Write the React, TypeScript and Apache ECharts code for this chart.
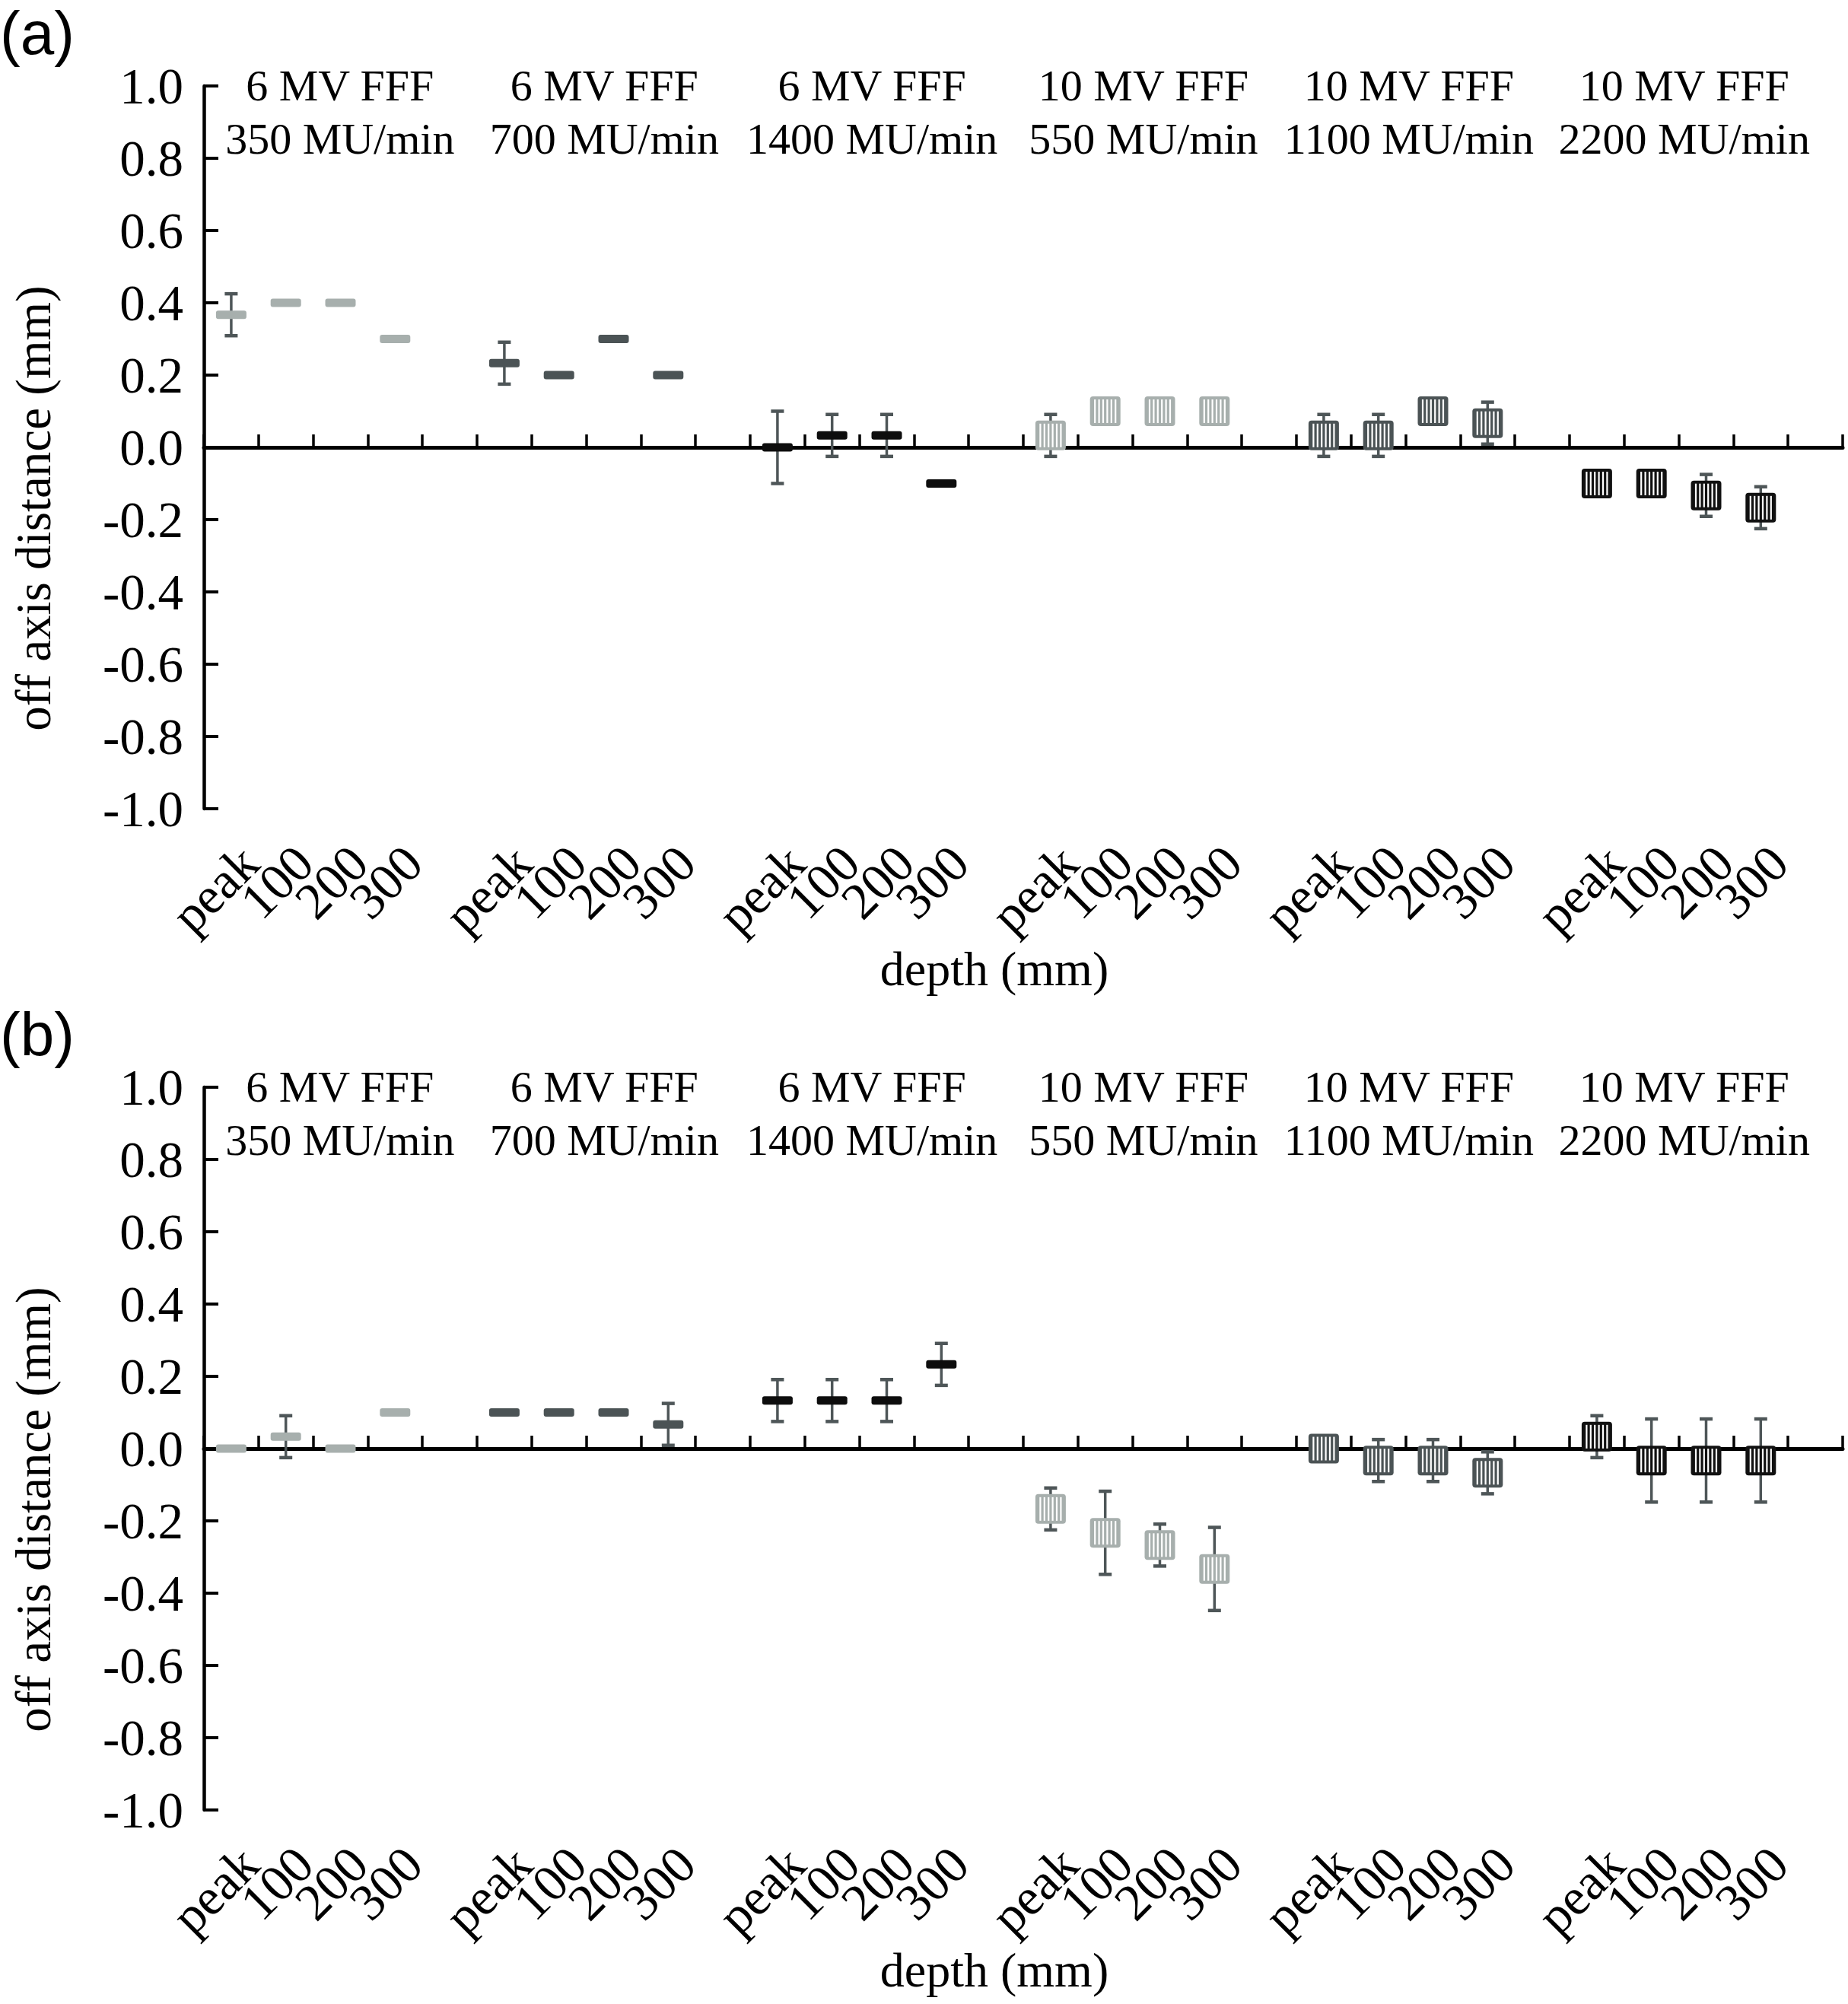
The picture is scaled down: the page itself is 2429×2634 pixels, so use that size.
import React, { useEffect, useRef } from "react";
import * as echarts from "echarts";

// ---------- data ----------
const depthLabels = ["peak", "100", "200", "300"];
const groupBeams = ["6 MV FFF", "6 MV FFF", "6 MV FFF", "10 MV FFF", "10 MV FFF", "10 MV FFF"];
const groupRates = ["350 MU/min", "700 MU/min", "1400 MU/min", "550 MU/min", "1100 MU/min", "2200 MU/min"];

// panel (a): mean and standard deviation per group, per depth
const panelAMean = [
  [0.367, 0.4, 0.4, 0.3],
  [0.233, 0.2, 0.3, 0.2],
  [0.0, 0.033, 0.033, -0.1],
  [0.033, 0.1, 0.1, 0.1],
  [0.033, 0.033, 0.1, 0.067],
  [-0.1, -0.1, -0.133, -0.167],
];
const panelASd = [
  [0.058, 0, 0, 0],
  [0.058, 0, 0, 0],
  [0.1, 0.058, 0.058, 0],
  [0.058, 0, 0, 0],
  [0.058, 0.058, 0, 0.058],
  [0, 0, 0.058, 0.058],
];
// panel (b)
const panelBMean = [
  [0.0, 0.033, 0.0, 0.1],
  [0.1, 0.1, 0.1, 0.067],
  [0.133, 0.133, 0.133, 0.233],
  [-0.167, -0.233, -0.267, -0.333],
  [0.0, -0.033, -0.033, -0.067],
  [0.033, -0.033, -0.033, -0.033],
];
const panelBSd = [
  [0, 0.058, 0, 0],
  [0, 0, 0, 0.058],
  [0.058, 0.058, 0.058, 0.058],
  [0.058, 0.115, 0.058, 0.115],
  [0, 0.058, 0.058, 0.058],
  [0.058, 0.115, 0.115, 0.115],
];

const yMin = -1.0;
const yMax = 1.0;
const yStep = 0.2;

const panelTags = ["(a)", "(b)"];
const xAxisTitle = "depth (mm)";
const yAxisTitle = "off axis distance (mm)";

// ---------- styles / layout ----------
const W = 2429;
const H = 2634;
const GRID_LEFT = 268;
const GRID_WIDTH = 2154;
const GRID_HEIGHT = 950;
const PANEL_TOPS = [113, 1429];
const SLOTS_PER_GROUP = 5;
const headerSlots = [2.49, 7.33, 12.23, 17.2, 22.06, 27.1];

const SERIF = "'Liberation Serif', 'Times New Roman', serif";
const SANS = "'Liberation Sans', Arial, sans-serif";
const groupColors = ["#a7afad", "#4b5355", "#0d0d0d", "#a7afad", "#4b5355", "#111111"];
const ERR_COLOR = "#4e5658";

const categories: string[] = [];
groupBeams.forEach(() => {
  depthLabels.forEach((d) => categories.push(d));
  categories.push("");
});

function buildPoints(means: number[][], sds: number[][]) {
  const pts: number[][] = [];
  means.forEach((row, g) => {
    row.forEach((m, d) => {
      pts.push([g * SLOTS_PER_GROUP + d, m, sds[g][d], g]);
    });
  });
  return pts;
}

function errorRender(params: any, api: any) {
  const x = api.value(0);
  const m = api.value(1);
  const s = api.value(2);
  if (!(s > 0)) return { type: "group", children: [] };
  const top = api.coord([x, m + s]);
  const bot = api.coord([x, m - s]);
  return {
    type: "group",
    children: [
      { type: "line", shape: { x1: top[0], y1: top[1], x2: bot[0], y2: bot[1] }, style: { stroke: ERR_COLOR, lineWidth: 3.5 } },
      { type: "rect", shape: { x: top[0] - 8.5, y: top[1] - 2.25, width: 17, height: 4.5 }, style: { fill: ERR_COLOR } },
      { type: "rect", shape: { x: bot[0] - 8.5, y: bot[1] - 2.25, width: 17, height: 4.5 }, style: { fill: ERR_COLOR } },
    ],
  };
}

function markerRender(params: any, api: any) {
  const x = api.value(0);
  const m = api.value(1);
  const g = api.value(3);
  const c = api.coord([x, m]);
  const color = groupColors[g];
  if (g < 3) {
    return {
      type: "rect",
      shape: { x: c[0] - 20, y: c[1] - 5.5, width: 40, height: 11, r: 3 },
      style: { fill: color },
    };
  }
  const children: any[] = [
    { type: "rect", shape: { x: c[0] - 20, y: c[1] - 19.5, width: 40, height: 39, r: 4 }, style: { fill: color } },
  ];
  [-13.5, -8.1, -2.7, 2.7, 8.1, 13.5].forEach((off) => {
    children.push({
      type: "rect",
      shape: { x: c[0] + off - 1.1, y: c[1] - 15.5, width: 2.2, height: 31 },
      style: { fill: "#ffffff" },
    });
  });
  return { type: "group", children };
}

function txt(text: string, x: number, y: number, size: number, family: string, align: string, vAlign: string, rotation = 0) {
  return {
    type: "text",
    x,
    y,
    rotation,
    silent: true,
    style: {
      text,
      font: `${size}px ${family}`,
      fill: "#000",
      align,
      verticalAlign: vAlign,
      textAlign: align,
      textVerticalAlign: vAlign,
    },
  };
}

export default function App() {
  const ref = useRef<HTMLDivElement>(null);

  useEffect(() => {
    if (!ref.current) return;
    const chart = echarts.init(ref.current, undefined, { renderer: "svg" });
    const panels = [
      { mean: panelAMean, sd: panelASd },
      { mean: panelBMean, sd: panelBSd },
    ];
    const slot = GRID_WIDTH / categories.length;

    const grid: any[] = [];
    const xAxis: any[] = [];
    const yAxis: any[] = [];
    const series: any[] = [];
    const graphic: any[] = [];

    panels.forEach((p, i) => {
      const top = PANEL_TOPS[i];
      const dy = top - PANEL_TOPS[0];
      grid.push({ left: GRID_LEFT, top, width: GRID_WIDTH, height: GRID_HEIGHT, containLabel: false });
      // label axis at bottom
      xAxis.push({
        type: "category",
        gridIndex: i,
        data: categories,
        position: "bottom",
        boundaryGap: true,
        axisLine: { show: false, onZero: false },
        axisTick: { show: false },
        axisLabel: {
          interval: 0,
          rotate: 45,
          fontSize: 68,
          fontFamily: SERIF,
          color: "#000",
          margin: 36,
          verticalAlign: "top",
        },
        splitLine: { show: false },
      });
      // zero line axis with upward ticks
      xAxis.push({
        type: "category",
        gridIndex: i,
        data: categories,
        position: "top",
        boundaryGap: true,
        axisLine: { show: true, onZero: true, lineStyle: { color: "#000", width: 5 } },
        axisTick: { show: true, inside: false, length: 17, interval: 0, alignWithLabel: false, lineStyle: { color: "#000", width: 3.5 } },
        axisLabel: { show: false },
        splitLine: { show: false },
      });
      yAxis.push({
        type: "value",
        gridIndex: i,
        min: yMin,
        max: yMax,
        interval: yStep,
        position: "left",
        axisLine: { show: true, onZero: false, lineStyle: { color: "#000", width: 4.5 } },
        axisTick: { show: true, inside: true, length: 19, lineStyle: { color: "#000", width: 4 } },
        axisLabel: {
          fontSize: 67,
          fontFamily: SERIF,
          color: "#000",
          margin: 27,
          formatter: (v: number) => (Math.abs(v) < 1e-9 ? "0.0" : v.toFixed(1)),
        },
        splitLine: { show: false },
      });
      const pts = buildPoints(p.mean, p.sd);
      series.push({
        type: "custom",
        xAxisIndex: i * 2,
        yAxisIndex: i,
        z: 3,
        renderItem: errorRender,
        encode: { x: 0, y: 1 },
        data: pts,
        silent: true,
      });
      series.push({
        type: "custom",
        xAxisIndex: i * 2,
        yAxisIndex: i,
        z: 4,
        renderItem: markerRender,
        encode: { x: 0, y: 1 },
        data: pts,
        silent: true,
      });

      // group headers
      groupBeams.forEach((b, g) => {
        const cx = GRID_LEFT + headerSlots[g] * slot;
        graphic.push(txt(b, cx, 112 + dy, 58, SERIF, "center", "middle"));
        graphic.push(txt(groupRates[g], cx, 182 + dy, 58, SERIF, "center", "middle"));
      });
      graphic.push(txt(panelTags[i], 0, 43 + dy, 80, SANS, "left", "middle"));
      graphic.push(txt(xAxisTitle, 1307, 1273 + dy, 64, SERIF, "center", "middle"));
      graphic.push(txt(yAxisTitle, 44, 668 + dy, 65, SERIF, "center", "middle", Math.PI / 2));
    });

    chart.setOption({
      animation: false,
      backgroundColor: "#ffffff",
      grid,
      xAxis,
      yAxis,
      series,
      graphic,
    });
    return () => chart.dispose();
  }, []);

  return <div ref={ref} style={{ position: "absolute", left: 0, top: 0, width: W, height: H }} />;
}
